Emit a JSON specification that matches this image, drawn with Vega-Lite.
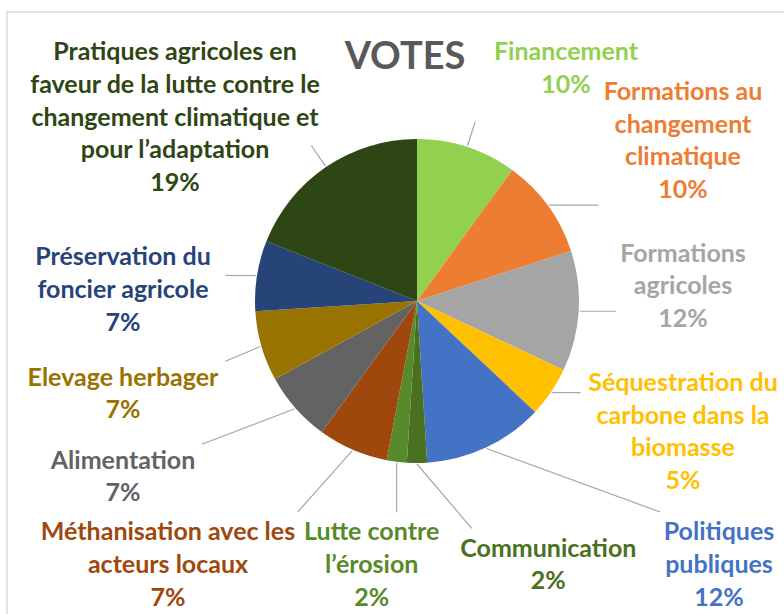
{
  "$schema": "https://vega.github.io/schema/vega-lite/v6.json",
  "width": 780,
  "height": 605,
  "autosize": {"type": "none"},
  "padding": {"left": 7, "top": 12, "right": 0, "bottom": 0},
  "background": "white",
  "config": {"view": {"stroke": "#D9D9D9", "strokeWidth": 1.5}, "font": "Lato"},
  "title": {
    "text": "VOTES",
    "font": "Lato",
    "fontSize": 38,
    "fontWeight": "bold",
    "color": "#595959",
    "anchor": "middle",
    "frame": "group",
    "orient": "top",
    "baseline": "top",
    "offset": 0,
    "dx": 8,
    "dy": 65
  },
  "data": {
    "values": [
      {"i": 1, "cat": "Financement", "label": "Financement", "pct": 10},
      {"i": 2, "cat": "Formations au changement climatique", "label": "Formations au\nchangement\nclimatique", "pct": 10},
      {"i": 3, "cat": "Formations agricoles", "label": "Formations\nagricoles", "pct": 12},
      {"i": 4, "cat": "Séquestration du carbone dans la biomasse", "label": "Séquestration du\ncarbone dans la\nbiomasse", "pct": 5},
      {"i": 5, "cat": "Politiques publiques", "label": "Politiques\npubliques", "pct": 12},
      {"i": 6, "cat": "Communication", "label": "Communication", "pct": 2},
      {"i": 7, "cat": "Lutte contre l’érosion", "label": "Lutte contre\nl’érosion", "pct": 2},
      {"i": 8, "cat": "Méthanisation avec les acteurs locaux", "label": "Méthanisation avec les\nacteurs locaux", "pct": 7},
      {"i": 9, "cat": "Alimentation", "label": "Alimentation", "pct": 7},
      {"i": 10, "cat": "Elevage herbager", "label": "Elevage herbager", "pct": 7},
      {"i": 11, "cat": "Préservation du foncier agricole", "label": "Préservation du\nfoncier agricole", "pct": 7},
      {"i": 12, "cat": "Pratiques agricoles en faveur de la lutte contre le changement climatique et pour l’adaptation", "label": "Pratiques agricoles en\nfaveur de la lutte contre le\nchangement climatique et\npour l’adaptation", "pct": 19}
    ]
  },
  "transform": [
    {"stack": "pct", "groupby": [], "sort": [{"field": "i", "order": "ascending"}], "as": ["s0", "s1"]},
    {"calculate": "(datum.s0 + datum.s1) * 1.8", "as": "m"},
    {"calculate": "(datum.m + 45) % 360", "as": "key"},
    {"calculate": "floor(datum.key / 90)", "as": "side"},
    {"calculate": "length(split(datum.label, '\\n')) + 1", "as": "nl"},
    {"calculate": "datum.label + '\\n' + datum.pct + '%'", "as": "txt"},
    {"calculate": "max(length(split(datum.label, '\\n')[0]), length(split(datum.label, '\\n')[1] || ''), length(split(datum.label, '\\n')[2] || ''), length(split(datum.label, '\\n')[3] || ''), 3) * 5.9", "as": "hw"},
    {"calculate": "(datum.side == 0 || datum.side == 2) ? 2 * datum.hw + 200 : datum.nl * 32.7", "as": "sz"},
    {"window": [{"op": "sum", "field": "sz", "as": "cum"}], "groupby": ["side"], "sort": [{"field": "key", "order": "ascending"}]},
    {"calculate": "datum.cum - datum.sz / 2", "as": "c"},
    {"joinaggregate": [{"op": "min", "field": "c", "as": "cmin"}, {"op": "max", "field": "c", "as": "cmax"}], "groupby": ["side"]},
    {"calculate": "datum.cmax > datum.cmin ? (datum.c - datum.cmin) / (datum.cmax - datum.cmin) : 0.5", "as": "t"},
    {"calculate": "datum.side == 0 ? -242 + 391 * datum.t : datum.side == 1 ? 266 : datum.side == 2 ? 302 - 551 * datum.t : -294", "as": "lx"},
    {"calculate": "datum.side == 0 ? -265 + datum.nl * 16.35 : datum.side == 1 ? -160 + 291 * datum.t : datum.side == 2 ? 264 : 176 - 187 * datum.t", "as": "lyc"},
    {"calculate": "datum.lyc - (datum.nl - 1) * 16.35", "as": "ly"},
    {"calculate": "163 * sin(datum.m * PI / 180)", "as": "ax"},
    {"calculate": "-163 * cos(datum.m * PI / 180)", "as": "ay"},
    {"calculate": "datum.side == 0 ? 188 * sin(datum.m * PI / 180) : datum.side == 1 ? datum.lx - datum.hw - 8 : datum.side == 2 ? clamp(datum.ax, datum.lx - datum.hw, datum.lx + datum.hw) : datum.lx + datum.hw + 8", "as": "bx"},
    {"calculate": "datum.side == 0 ? -188 * cos(datum.m * PI / 180) : datum.side == 2 ? datum.lyc - datum.nl * 16.35 - 4 : clamp(datum.ay, datum.lyc - datum.nl * 16.35, datum.lyc + datum.nl * 16.35)", "as": "by"}
  ],
  "layer": [
    {
      "mark": {"type": "rule", "color": "#A6A6A6", "strokeWidth": 1.2},
      "encoding": {
        "x": {"field": "ax", "type": "quantitative", "scale": {"domain": [-410, 370], "nice": false, "zero": false}, "axis": null},
        "y": {"field": "ay", "type": "quantitative", "scale": {"domain": [-289, 316], "reverse": true, "nice": false, "zero": false}, "axis": null},
        "x2": {"field": "bx"},
        "y2": {"field": "by"}
      }
    },
    {
      "mark": {"type": "arc", "outerRadius": 162},
      "encoding": {
        "x": {"datum": 0, "type": "quantitative"},
        "y": {"datum": 0, "type": "quantitative"},
        "theta": {"field": "s0", "type": "quantitative", "stack": null, "scale": {"domain": [0, 100]}},
        "theta2": {"field": "s1"},
        "color": {
          "field": "cat",
          "type": "nominal",
          "legend": null,
          "scale": {
            "domain": [
              "Financement",
              "Formations au changement climatique",
              "Formations agricoles",
              "Séquestration du carbone dans la biomasse",
              "Politiques publiques",
              "Communication",
              "Lutte contre l’érosion",
              "Méthanisation avec les acteurs locaux",
              "Alimentation",
              "Elevage herbager",
              "Préservation du foncier agricole",
              "Pratiques agricoles en faveur de la lutte contre le changement climatique et pour l’adaptation"
            ],
            "range": ["#92D050", "#ED7D31", "#A5A5A5", "#FFC000", "#4472C4", "#4A7021", "#568A2A", "#9E480E", "#636363", "#997300", "#264478", "#2E4614"]
          }
        }
      }
    },
    {
      "mark": {"type": "text", "font": "Lato", "fontSize": 25, "fontWeight": "bold", "lineHeight": 32.7, "align": "center", "baseline": "middle", "lineBreak": "\n"},
      "encoding": {
        "x": {"field": "lx", "type": "quantitative"},
        "y": {"field": "ly", "type": "quantitative"},
        "text": {"field": "txt", "type": "nominal"},
        "color": {"field": "cat", "type": "nominal", "legend": null}
      }
    }
  ]
}
